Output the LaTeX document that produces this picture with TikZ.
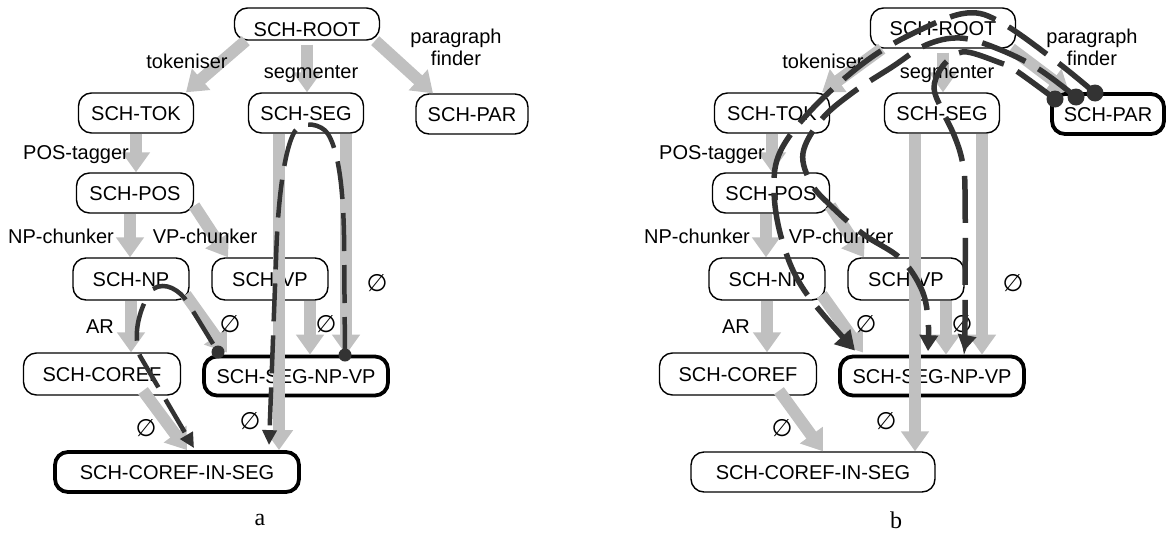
\documentclass[tikz,border=0pt]{standalone}
\usepackage{fontspec}
\setmainfont{Liberation Sans}
\newfontfamily\serifrm{Liberation Serif}
\newfontfamily\symfont{DejaVu Sans}
\usetikzlibrary{arrows.meta,calc}
\definecolor{lg}{HTML}{C0C0C0}
\definecolor{dk}{HTML}{333333}
\begin{document}
\begin{tikzpicture}[x=1pt,y=-1pt,
  box/.style={draw=black, rounded corners=13pt, minimum height=40pt, inner sep=0pt,
    font=\fontsize{20}{24}\selectfont, text height=14.3pt, text depth=0pt, line width=1.4pt},
  garrow/.style={draw=lg, line width=12pt, -{Triangle[width=27pt,length=20pt]}},
  lbl/.style={font=\fontsize{20}{24}\selectfont, inner sep=0pt, anchor=base},
  empt/.style={font=\symfont\fontsize{24}{26}\selectfont, inner sep=0pt},
  dashA/.style={draw=dk, line width=4.5pt, dash pattern=on 38pt off 14pt},
  dashB/.style={draw=dk, line width=5.5pt, dash pattern=on 47pt off 15pt},
  tipA/.style={-{Triangle[width=14pt,length=15pt]}},
  tipB/.style={-{Triangle[width=18pt,length=16pt]}},
  tipBB/.style={-{Triangle[width=21pt,length=19pt]}},
]
\useasboundingbox (0,0) rectangle (1167,533);

\foreach \p/\sx/\ry/\rh/\rth/\parlw/\cislw in {a/0/24/32/24/1.4/3.8, b/636/28/40/14.3/3.8/1.4}{
\begin{scope}[xshift=\sx pt]
  % nodes
  \node[box, minimum width=145pt, minimum height=\rh pt, text height=\rth pt] (\p-root) at (307,\ry) {SCH-ROOT};
  \node[box, minimum width=115pt] (\p-tok) at (136,113) {SCH-TOK};
  \node[box, minimum width=115pt] (\p-seg) at (306,113) {SCH-SEG};
  \node[box, line width=\parlw pt, minimum width=112pt] (\p-par) at (472,114) {SCH-PAR};
  \node[box, minimum width=117pt] (\p-pos) at (135,193) {SCH-POS};
  \node[box, minimum width=116pt, minimum height=42pt] (\p-np) at (131,279) {SCH-NP};
  \node[box, minimum width=116pt, minimum height=42pt] (\p-vp) at (270,279) {SCH-VP};
  \node[box, minimum width=157pt, minimum height=42pt] (\p-coref) at (102,374) {SCH-COREF};
  \node[box, line width=3.8pt, minimum width=184pt, minimum height=39pt] (\p-snv) at (296,376) {SCH-SEG-NP-VP};
  \node[box, line width=\cislw pt, minimum width=244pt] (\p-cis) at (177,472) {SCH-COREF-IN-SEG};
  % grey arrows
  \draw[garrow] ([xshift=12pt]\p-root.south west) -- ([xshift=50pt]\p-tok.north);
  \draw[garrow] ([yshift=-4pt]\p-root.south) -- (\p-root.south |- \p-seg.north);
  \draw[garrow] ([xshift=-5pt]\p-root.south east) -- ([xshift=-39pt]\p-par.north);
  \draw[garrow] (\p-tok.south) -- (\p-tok.south |- \p-pos.north);
  \draw[garrow] ([xshift=-5pt]\p-pos.south) -- ([xshift=-5pt]\p-pos.south |- \p-np.north);
  \draw[garrow] ([yshift=8pt]\p-pos.south east) -- ([xshift=-42pt]\p-vp.north);
  \draw[garrow] (\p-np.south) -- (\p-np.south |- \p-coref.north);
  \draw[garrow] ([xshift=-4pt,yshift=6pt]\p-np.south east) -- ([xshift=-69pt,yshift=2pt]\p-snv.north);
  \draw[garrow] ([xshift=40pt]\p-vp.south) -- ([xshift=40pt]\p-vp.south |- \p-snv.north);
  \draw[garrow] ([xshift=40pt]\p-seg.south) -- ([xshift=40pt]\p-seg.south |- \p-snv.north);
  \draw[garrow] ([xshift=-27pt]\p-seg.south) -- ([xshift=-27pt]\p-seg.south |- \p-cis.north);
  \draw[garrow] ([xshift=41pt,yshift=5pt]\p-coref.south) -- ([xshift=10pt]\p-cis.north);
  % labels
  \node[lbl] (\p-l1) at (187,68) {tokeniser};
  \node[lbl] (\p-l2) at (311,78) {segmenter};
  \node[lbl] (\p-l3) at (456,43) {paragraph};
  \node[lbl] (\p-l4) at (456,65) {finder};
  \node[lbl] (\p-l5) at (76,159) {POS-tagger};
  \node[lbl] (\p-l6) at (61,243) {NP-chunker};
  \node[lbl] (\p-l7) at (205,243) {VP-chunker};
  \node[lbl] (\p-l8) at (100,333) {AR};
  \node[empt] (\p-e1) at (230,324) {∅};
  \node[empt] (\p-e2) at (326,324) {∅};
  \node[empt] (\p-e3) at (377,283) {∅};
  \node[empt] (\p-e4) at (250,421) {∅};
  \node[empt] (\p-e5) at (146,428) {∅};
  \node[font=\serifrm\fontsize{24}{26}\selectfont, inner sep=0pt] (\p-cap) at (260,520) {\p};
\end{scope}
}

% panel a dark paths
\coordinate (adot1) at (218,352);
\coordinate (adot2) at (345,355);
\draw[dashA] ([xshift=22pt,yshift=-10pt]a-np.center) .. controls (165,281) and (180,290) .. (188,303) -- (adot1);
\draw[dashA, tipA] ([xshift=13pt,yshift=-3pt]a-np.south) .. controls (137,320) and (134,338) .. (140,356) -- ([xshift=17pt,yshift=2pt]a-cis.north);
\draw[dashA, tipA] (adot2) -- (344,235) .. controls (343,185) and (338,150) .. (328,134)
   .. controls (322,124) and (302,120) .. (295,131) .. controls (286,145) and (278,190) .. (276,260)
   -- ([xshift=92pt,yshift=5pt]a-cis.north);
\fill[dk] (adot1) circle (6.5pt);
\fill[dk] (adot2) circle (6.5pt);

% panel b dark paths
\begin{scope}[xshift=636pt]
\coordinate (bdot1) at (419,99);
\coordinate (bdot2) at (440,97);
\coordinate (bdot3) at (459,93);
\coordinate (bend1) at ([xshift=-77pt,yshift=4pt]b-snv.north);
\coordinate (bend2) at ([xshift=-4pt,yshift=3.5pt]b-snv.north);
\coordinate (bend3) at ([xshift=32pt,yshift=3.5pt]b-snv.north);
\draw[dashB, tipBB] plot[smooth, tension=0.6] coordinates {(bdot3) (421,62) (366,23) (331,13) (284,30) (233,59) (180,105) (145,150) (138,190) (146,240) (168,290) (bend1)};
\draw[dashB, tipB] plot[smooth, tension=0.6] coordinates {(bdot2) (401,68) (360,48) (324,38) (290,45) (256,67) (216,93) (185,120) (167,153) (175,183) (194,205) (227,234) (264,258) (285,288) (292,318) (bend2)};
\draw[dashB, tipB] plot[smooth, tension=0.6] coordinates {(bdot1) (379,70) (362,62) (331,52) (316,57) (304,70) (298,88) (305,108) (318,135) (326,160) (329,190) (329,320) (bend3)};
\fill[dk] (bdot1) circle (8.5pt);
\fill[dk] (bdot2) circle (8.5pt);
\fill[dk] (bdot3) circle (8.5pt);
\end{scope}
\end{tikzpicture}
\end{document}
